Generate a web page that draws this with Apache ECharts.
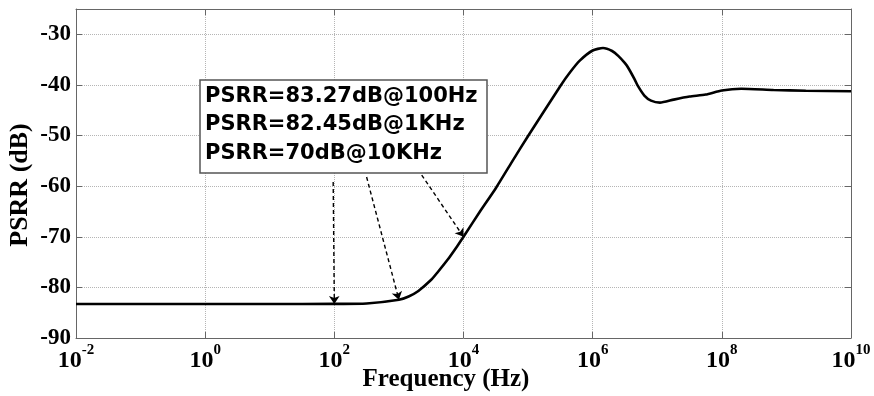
<!DOCTYPE html>
<html><head><meta charset="utf-8">
<script src="https://cdn.jsdelivr.net/npm/echarts@6/dist/echarts.min.js"></script>
<style>html,body{margin:0;padding:0;background:#fff}#c{width:874px;height:396px}</style>
</head><body><div id="c"></div>
<script>
// Frequency (Hz) and PSRR (dB)
const freqHz = [0.01, 1, 10, 100, 316, 1000, 1413, 2000, 3162, 3981, 5623, 7943, 10000, 17783, 31623, 56234, 100000, 316228, 446684, 630957, 1000000, 1445440, 2000000, 2511886, 3162278, 3548134, 4466836, 5011872, 6309573, 8000000, 11000000, 18000000, 31622777, 56234133, 100000000, 200000000, 630957344, 2000000000, 10000000000];
const psrrDb = [-83.27, -83.27, -83.27, -83.26, -83.18, -82.45, -81.8, -80.7, -78.5, -77.0, -74.6, -71.9, -70.0, -65.1, -60.4, -55.2, -50.1, -40.2, -37.5, -35.2, -33.2, -32.7, -33.3, -34.3, -35.7, -36.6, -38.9, -40.2, -42.1, -43.1, -43.5, -42.9, -42.3, -41.9, -41.1, -40.75, -41.0, -41.15, -41.25];

// Annotation
const annotationLines = ['PSRR=83.27dB@100Hz', 'PSRR=82.45dB@1KHz', 'PSRR=70dB@10KHz'];
const arrowFromHz = [96, 316, 2254];
const arrowFromDb = [-59.2, -58.2, -57.8];
const arrowToHz = [100, 1000, 10000];
const arrowToDb = [-83.27, -82.45, -70];

// Axes
const xMinHz = 0.01, xMaxHz = 1e10, xDecadeStep = 2;
const yMin = -90, yMax = -25, yStep = 10;

const axisColor = '#666';
const serif = '"Liberation Serif", "Times New Roman", serif';

const chart = echarts.init(document.getElementById('c'), null, {renderer: 'canvas'});

const seriesData = freqHz.map((f, i) => [f, psrrDb[i]]);
const arrows = arrowFromHz.map((f, i) => [
  {coord: [f, arrowFromDb[i]]},
  {coord: [arrowToHz[i], arrowToDb[i]]}
]);

function xLabel(v) {
  const e = Math.round(Math.log10(v));
  return '{b|10}{s|' + e + '}';
}

const baseX = {
  type: 'log', logBase: 10, min: xMinHz, max: xMaxHz, interval: xDecadeStep,
  axisLine: {show: true, lineStyle: {color: axisColor, width: 1}},
  axisTick: {show: true, inside: true, length: 6, lineStyle: {color: axisColor}},
  minorTick: {show: false}
};
const baseY = {
  type: 'value', min: yMin, max: yMax, interval: yStep,
  axisLine: {show: true, lineStyle: {color: axisColor, width: 1}},
  axisTick: {show: true, inside: true, length: 6, lineStyle: {color: axisColor}}
};

chart.setOption({
  animation: false,
  backgroundColor: '#fff',
  grid: {left: 76, right: 23, top: 9, bottom: 58},
  xAxis: [
    Object.assign({}, baseX, {
      position: 'bottom',
      axisLabel: {
        show: true, margin: 5, formatter: xLabel,
        rich: {
          b: {fontFamily: serif, fontWeight: 'bold', fontSize: 24, color: '#000', lineHeight: 36},
          s: {fontFamily: serif, fontWeight: 'bold', fontSize: 15, color: '#000', lineHeight: 15, verticalAlign: 'top'}
        }
      },
      splitLine: {show: true, lineStyle: {color: '#b5b5b5', type: 'dotted', width: 1}}
    }),
    Object.assign({}, baseX, {
      position: 'top',
      axisLabel: {show: false},
      splitLine: {show: false}
    })
  ],
  yAxis: [
    Object.assign({}, baseY, {
      position: 'left',
      axisLabel: {
        show: true, margin: 5,
        fontFamily: serif, fontWeight: 'bold', fontSize: 23, color: '#000',
        formatter: v => (v === yMax ? '' : String(v))
      },
      splitLine: {show: true, lineStyle: {color: '#b5b5b5', type: 'dotted', width: 1}}
    }),
    Object.assign({}, baseY, {
      position: 'right',
      axisLabel: {show: false},
      splitLine: {show: false}
    })
  ],
  series: [{
    type: 'line',
    xAxisIndex: 0, yAxisIndex: 0,
    data: seriesData,
    showSymbol: false,
    smooth: 0.2,
    lineStyle: {color: '#000', width: 2.6},
    markLine: {
      silent: true,
      symbol: ['none', 'arrow'],
      symbolSize: 8,
      label: {show: false},
      lineStyle: {color: '#000', type: [4, 3], width: 1.4},
      emphasis: {disabled: true},
      data: arrows
    }
  }],
  graphic: [
    {type: 'rect', shape: {x: 200, y: 80, width: 287, height: 93},
     style: {fill: '#fff', stroke: '#555', lineWidth: 1.5}, z: 100},
    ...annotationLines.map((t, i) => ({
      type: 'text', x: 205, y: 96.7 + i * 28.3, z: 101,
      style: {text: t, fill: '#000', font: 'bold 21px "DejaVu Sans", sans-serif', textAlign: 'left', textVerticalAlign: 'middle'}
    })),
    {type: 'text', x: 446, y: 380, z: 101,
     style: {text: 'Frequency (Hz)', fill: '#000', font: 'bold 25px ' + serif, textAlign: 'center', textVerticalAlign: 'middle'}},
    {type: 'text', x: 20.5, y: 185, rotation: Math.PI / 2, z: 101,
     style: {text: 'PSRR (dB)', fill: '#000', font: 'bold 26px ' + serif, textAlign: 'center', textVerticalAlign: 'middle'}}
  ]
});
</script>
</body></html>
